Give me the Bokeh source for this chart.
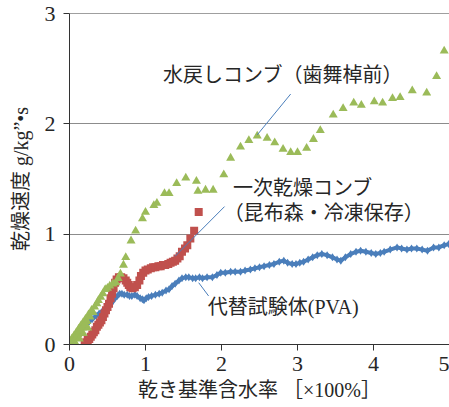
from bokeh.plotting import figure
from bokeh.models import FixedTicker, Span
from bokeh.core.properties import value
from bokeh.embed import file_html
from bokeh.resources import INLINE

# Drying rate [g/kg'·s] against dry-basis moisture content [x100%]

# rehydrated kelp (Habomai, pre-harvest)
green_x = [0.00, 0.02, 0.03, 0.05, 0.06, 0.08, 0.09, 0.11, 0.12, 0.14, 0.15, 0.17,
           0.18, 0.20, 0.21, 0.23, 0.25, 0.27, 0.29, 0.31, 0.33, 0.36, 0.38, 0.41,
           0.44, 0.47, 0.50, 0.53, 0.57, 0.61, 0.64, 0.67, 0.71, 0.74, 0.81, 0.87,
           0.96, 1.00, 1.11, 1.15, 1.25, 1.31, 1.41, 1.53, 1.67, 1.69, 1.79, 1.89,
           2.03, 2.12, 2.25, 2.36, 2.47, 2.60, 2.70, 2.81, 2.91, 3.00, 3.12, 3.21,
           3.30, 3.47, 3.60, 3.74, 3.84, 4.01, 4.12, 4.25, 4.35, 4.51, 4.70, 4.83,
           4.93, 0.08, 0.13, 0.18, 0.24]
green_y = [0.00, 0.02, 0.05, 0.03, 0.08, 0.06, 0.11, 0.09, 0.14, 0.12, 0.17, 0.15,
           0.20, 0.18, 0.23, 0.21, 0.27, 0.25, 0.31, 0.29, 0.34, 0.37, 0.40, 0.43,
           0.46, 0.50, 0.51, 0.53, 0.55, 0.56, 0.60, 0.64, 0.72, 0.79, 0.94, 1.03,
           1.14, 1.20, 1.26, 1.28, 1.37, 1.37, 1.46, 1.51, 1.48, 1.39, 1.40, 1.40,
           1.54, 1.69, 1.79, 1.85, 1.89, 1.87, 1.83, 1.77, 1.74, 1.74, 1.78, 1.86,
           1.94, 2.08, 2.14, 2.19, 2.17, 2.20, 2.19, 2.23, 2.24, 2.30, 2.28, 2.43,
           2.66, 0.01, 0.05, 0.10, 0.15]

# primary-dried kelp (Konbumori, frozen storage)
red_x = [0.20, 0.22, 0.24, 0.26, 0.28, 0.30, 0.32, 0.34, 0.36, 0.38, 0.40, 0.42,
         0.44, 0.46, 0.48, 0.50, 0.52, 0.54, 0.56, 0.58, 0.60, 0.62, 0.65, 0.68,
         0.71, 0.74, 0.76, 0.78, 0.80, 0.83, 0.86, 0.89, 0.92, 0.94, 0.97, 1.00,
         1.03, 1.07, 1.10, 1.13, 1.17, 1.20, 1.23, 1.26, 1.30, 1.33, 1.36, 1.39,
         1.42, 1.45, 1.48, 1.52, 1.55, 1.59, 1.64, 1.70]
red_y = [0.00, 0.02, 0.04, 0.05, 0.07, 0.09, 0.11, 0.13, 0.16, 0.18, 0.20, 0.22,
         0.25, 0.28, 0.31, 0.34, 0.37, 0.42, 0.46, 0.51, 0.56, 0.59, 0.61, 0.61,
         0.60, 0.58, 0.56, 0.54, 0.52, 0.51, 0.52, 0.54, 0.58, 0.62, 0.65, 0.67,
         0.68, 0.69, 0.70, 0.70, 0.71, 0.71, 0.72, 0.72, 0.73, 0.74, 0.75, 0.76,
         0.78, 0.80, 0.84, 0.87, 0.90, 0.96, 1.03, 1.20]

# substitute specimen (PVA)
blue_x = [0.00, 0.04, 0.08, 0.12, 0.16, 0.21, 0.25, 0.30, 0.35, 0.39, 0.43, 0.47,
          0.52, 0.56, 0.60, 0.63, 0.66, 0.69, 0.72, 0.76, 0.79, 0.82, 0.86, 0.89,
          0.93, 0.96, 0.98, 1.01, 1.04, 1.08, 1.13, 1.18, 1.22, 1.27, 1.31, 1.35,
          1.39, 1.44, 1.48, 1.53, 1.57, 1.62, 1.66, 1.71, 1.75, 1.81, 1.88, 1.94,
          1.99, 2.05, 2.12, 2.18, 2.25, 2.31, 2.38, 2.44, 2.50, 2.56, 2.63, 2.69,
          2.76, 2.82, 2.87, 2.93, 2.98, 3.03, 3.08, 3.14, 3.20, 3.26, 3.32, 3.39,
          3.46, 3.52, 3.57, 3.63, 3.70, 3.77, 3.83, 3.90, 3.97, 4.03, 4.09, 4.14,
          4.22, 4.31, 4.37, 4.44, 4.50, 4.57, 4.64, 4.71, 4.79, 4.86, 4.93, 4.99]
blue_y = [0.00, 0.03, 0.07, 0.10, 0.13, 0.17, 0.20, 0.23, 0.26, 0.28, 0.30, 0.32,
          0.35, 0.38, 0.42, 0.44, 0.46, 0.46, 0.45, 0.45, 0.44, 0.44, 0.45, 0.44,
          0.42, 0.41, 0.40, 0.42, 0.43, 0.44, 0.45, 0.46, 0.47, 0.49, 0.50, 0.53,
          0.55, 0.58, 0.60, 0.61, 0.61, 0.60, 0.60, 0.61, 0.60, 0.61, 0.61, 0.63,
          0.65, 0.65, 0.66, 0.66, 0.66, 0.67, 0.68, 0.69, 0.70, 0.71, 0.72, 0.73,
          0.75, 0.76, 0.74, 0.73, 0.73, 0.74, 0.75, 0.77, 0.79, 0.81, 0.82, 0.81,
          0.79, 0.77, 0.76, 0.79, 0.82, 0.84, 0.85, 0.84, 0.83, 0.82, 0.83, 0.84,
          0.86, 0.88, 0.87, 0.86, 0.87, 0.87, 0.86, 0.85, 0.88, 0.88, 0.90, 0.91]

x_ticks = [0, 1, 2, 3, 4, 5]
y_ticks = [0, 1, 2, 3]

# callout texts with their anchor and leader-line ends (data units)
callouts = [
    dict(text="水戻しコンブ（歯舞棹前）", tx=1.23, ty=2.44, lx=[2.91, 2.47], ly=[2.27, 1.90]),
    dict(text="一次乾燥コンブ", tx=2.15, ty=1.42, lx=[2.04, 1.39], ly=[1.25, 0.80]),
    dict(text="（昆布森・冷凍保存）", tx=2.03, ty=1.19, lx=None, ly=None),
    dict(text="代替試験体(PVA)", tx=1.82, ty=0.34, lx=[1.70, 1.83], ly=[0.56, 0.44]),
]

GREEN = "#9bbb59"
RED = "#c0504d"
BLUE = "#4a7ebb"
INK = "#262626"
CJK = "Liberation Serif, Noto Sans CJK JP"

p = figure(width=449, height=407, x_range=(0, 5), y_range=(0, 3),
           output_backend="svg", toolbar_location=None,
           min_border_left=69, min_border_right=0, min_border_top=13,
           min_border_bottom=63)
p.outline_line_color = None
p.background_fill_color = "white"
p.border_fill_color = "white"

p.xgrid.grid_line_color = None
p.ygrid.ticker = FixedTicker(ticks=y_ticks[1:-1])
p.ygrid.grid_line_color = "#8c8c8c"
p.ygrid.grid_line_width = 1
p.add_layout(Span(location=y_ticks[-1], dimension="width",
                  line_color="#404040", line_width=1))

for ax in (p.xaxis[0], p.yaxis[0]):
    ax.axis_line_color = "#333333"
    ax.major_tick_line_color = "#333333"
    ax.major_tick_in = 0
    ax.major_tick_out = 6
    ax.minor_tick_line_color = None
    ax.major_label_text_font = "Liberation Serif"
    ax.major_label_text_font_size = "22px"
    ax.major_label_text_color = INK
    ax.axis_label_text_font = CJK
    ax.axis_label_text_font_size = "20px"
    ax.axis_label_text_font_style = "normal"
    ax.axis_label_text_color = INK

p.xaxis.ticker = FixedTicker(ticks=x_ticks)
p.yaxis.ticker = FixedTicker(ticks=y_ticks)
p.xaxis.major_label_standoff = 6
p.yaxis.major_label_standoff = 8
p.xaxis.axis_label = "乾き基準含水率 ［×100%］"
p.yaxis.axis_label = "乾燥速度 g/kg”•s"
p.xaxis.axis_label_standoff = 5
p.yaxis.axis_label_standoff = 10

# series
p.line(blue_x, blue_y, line_color=BLUE, line_width=4)
p.scatter(blue_x, blue_y, marker="diamond", size=8, fill_color=BLUE, line_color=None)
p.scatter(red_x, red_y, marker="square", size=8, fill_color=RED, line_color=None)
p.scatter(green_x, green_y, marker="triangle", size=9, fill_color=GREEN, line_color=None)

# callouts
for c in callouts:
    if c["lx"] is not None:
        p.line(c["lx"], c["ly"], line_color=BLUE, line_width=1)
p.text(x=[c["tx"] for c in callouts], y=[c["ty"] for c in callouts],
       text=[c["text"] for c in callouts],
       text_font=value(CJK), text_font_size="20px", text_color=INK,
       text_align="left", text_baseline="middle")

open("out.html", "w").write(file_html(p, INLINE))
